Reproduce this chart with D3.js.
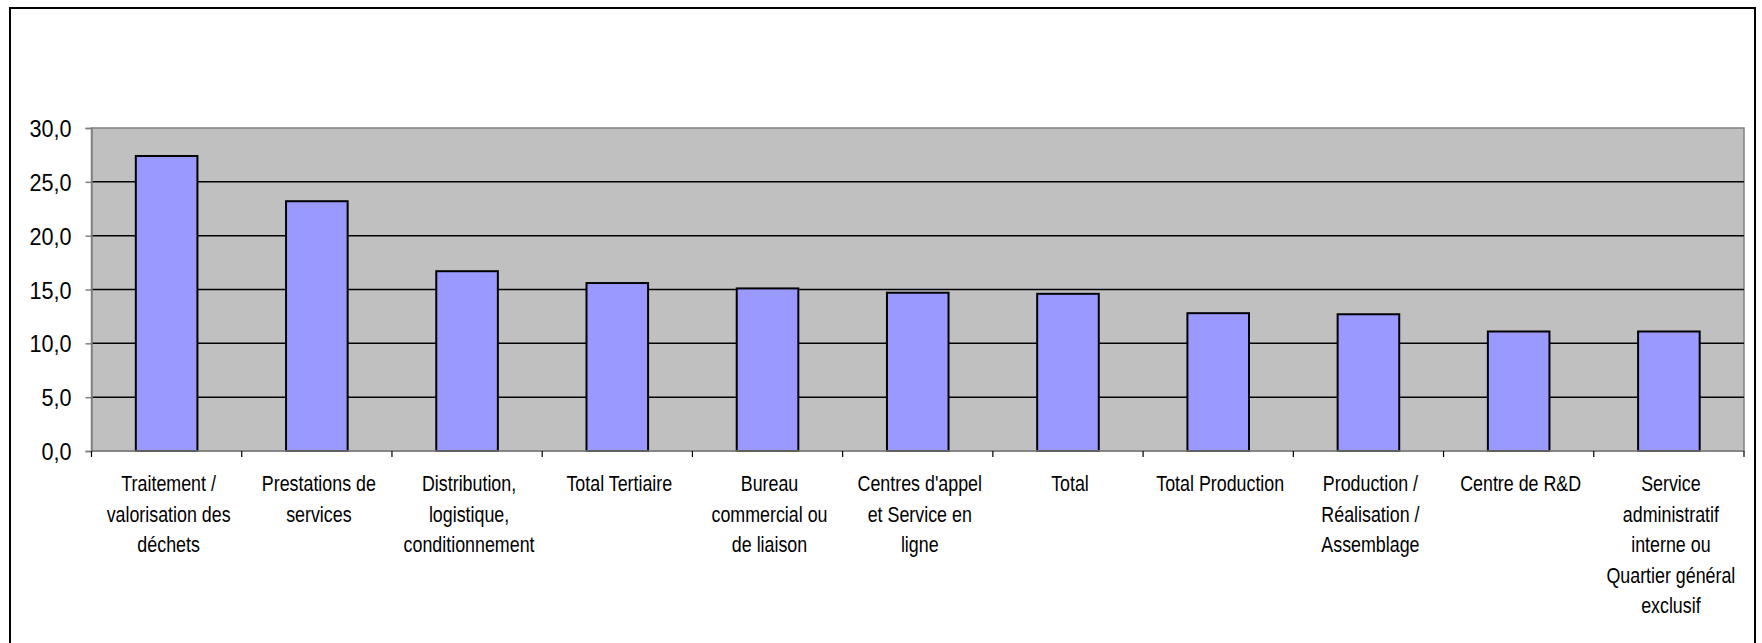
<!DOCTYPE html>
<html><head><meta charset="utf-8">
<script src="https://cdn.jsdelivr.net/npm/d3@7"></script>
<style>html,body{margin:0;padding:0;background:#fff;}svg{display:block;}</style>
</head><body>
<svg id="c" width="1762" height="643"></svg>
<script>
const categories = [
  "Traitement / valorisation des déchets",
  "Prestations de services",
  "Distribution, logistique, conditionnement",
  "Total Tertiaire",
  "Bureau commercial ou de liaison",
  "Centres d'appel et Service en ligne",
  "Total",
  "Total Production",
  "Production / Réalisation / Assemblage",
  "Centre de R&D",
  "Service administratif interne ou Quartier général exclusif"
];
const labelLines = [
  ["Traitement /", "valorisation des", "déchets"],
  ["Prestations de", "services"],
  ["Distribution,", "logistique,", "conditionnement"],
  ["Total Tertiaire"],
  ["Bureau", "commercial ou", "de liaison"],
  ["Centres d'appel", "et Service en", "ligne"],
  ["Total"],
  ["Total Production"],
  ["Production /", "Réalisation /", "Assemblage"],
  ["Centre de R&D"],
  ["Service", "administratif", "interne ou", "Quartier général", "exclusif"]
];
const values = [27.4, 23.2, 16.7, 15.6, 15.1, 14.7, 14.6, 12.8, 12.7, 11.1, 11.1];
const yTicks = [0, 5, 10, 15, 20, 25, 30];

const svg = d3.select("#c");
const L = 91.5, R = 1744, T = 128, B = 451;

svg.append("rect").attr("x", 10).attr("y", 8).attr("width", 1745).attr("height", 700)
  .attr("fill", "#fff").attr("stroke", "#000").attr("stroke-width", 2);

const x = d3.scaleBand().domain(categories).range([L, R]).paddingInner(0.59).paddingOuter(0.295);
const xb = d3.scaleBand().domain(categories).range([L, R]);
const y = d3.scaleLinear().domain([0, 30]).range([B, T]);

svg.append("rect").attr("x", L).attr("y", T).attr("width", R - L).attr("height", B - T)
  .attr("fill", "#C0C0C0").attr("stroke", "#808080").attr("stroke-width", 1.5);

// gridlines
svg.append("g").selectAll("line").data(yTicks.filter(d => d > 0 && d < 30)).join("line")
  .attr("x1", L).attr("x2", R).attr("y1", d => y(d)).attr("y2", d => y(d))
  .attr("stroke", "#000").attr("stroke-width", 1.5);

// bars
svg.append("g").selectAll("rect").data(values).join("rect")
  .attr("x", (d, i) => x(categories[i]))
  .attr("width", x.bandwidth())
  .attr("y", d => y(d))
  .attr("height", d => y(0) - y(d))
  .attr("fill", "#9999FF").attr("stroke", "#000").attr("stroke-width", 2);

// y axis
const yAxis = d3.axisLeft(y).tickValues(yTicks).tickSize(6).tickFormat(d => d3.format(".1f")(d).replace(".", ","));
const gy = svg.append("g").attr("transform", `translate(${L},0)`).call(yAxis);
gy.select(".domain").attr("stroke", "#808080").attr("stroke-width", 1.5);
gy.selectAll(".tick line").attr("stroke", "#808080").attr("stroke-width", 1.5);
const sx = 0.9;
gy.selectAll(".tick text").attr("font-family", "Liberation Sans, Arial, sans-serif")
  .attr("font-size", 24).attr("fill", "#000").attr("dy", "0.36em")
  .attr("transform", `scale(${sx},1)`).attr("x", -20 / sx);

// x axis with ticks at category boundaries
svg.append("line").attr("x1", L).attr("x2", R).attr("y1", B).attr("y2", B)
  .attr("stroke", "#808080").attr("stroke-width", 1.5);
const bounds = categories.map(c => xb(c)).concat([R]);
svg.append("g").selectAll("line").data(bounds).join("line")
  .attr("x1", d => d).attr("x2", d => d).attr("y1", B).attr("y2", B + 6)
  .attr("stroke", "#000").attr("stroke-width", 1.2);

// category labels
const lg = svg.append("g").attr("font-family", "Liberation Sans, Arial, sans-serif")
  .attr("font-size", 21.5).attr("fill", "#000").attr("text-anchor", "middle");
labelLines.forEach((lines, i) => {
  const cx = xb(categories[i]) + xb.bandwidth() / 2 + 2;
  const g = lg.append("g").attr("transform", `translate(${cx},0) scale(0.83,1)`);
  lines.forEach((ln, j) => {
    g.append("text").attr("x", 0).attr("y", 491.5 + j * 30.4).text(ln);
  });
});
</script>
</body></html>
